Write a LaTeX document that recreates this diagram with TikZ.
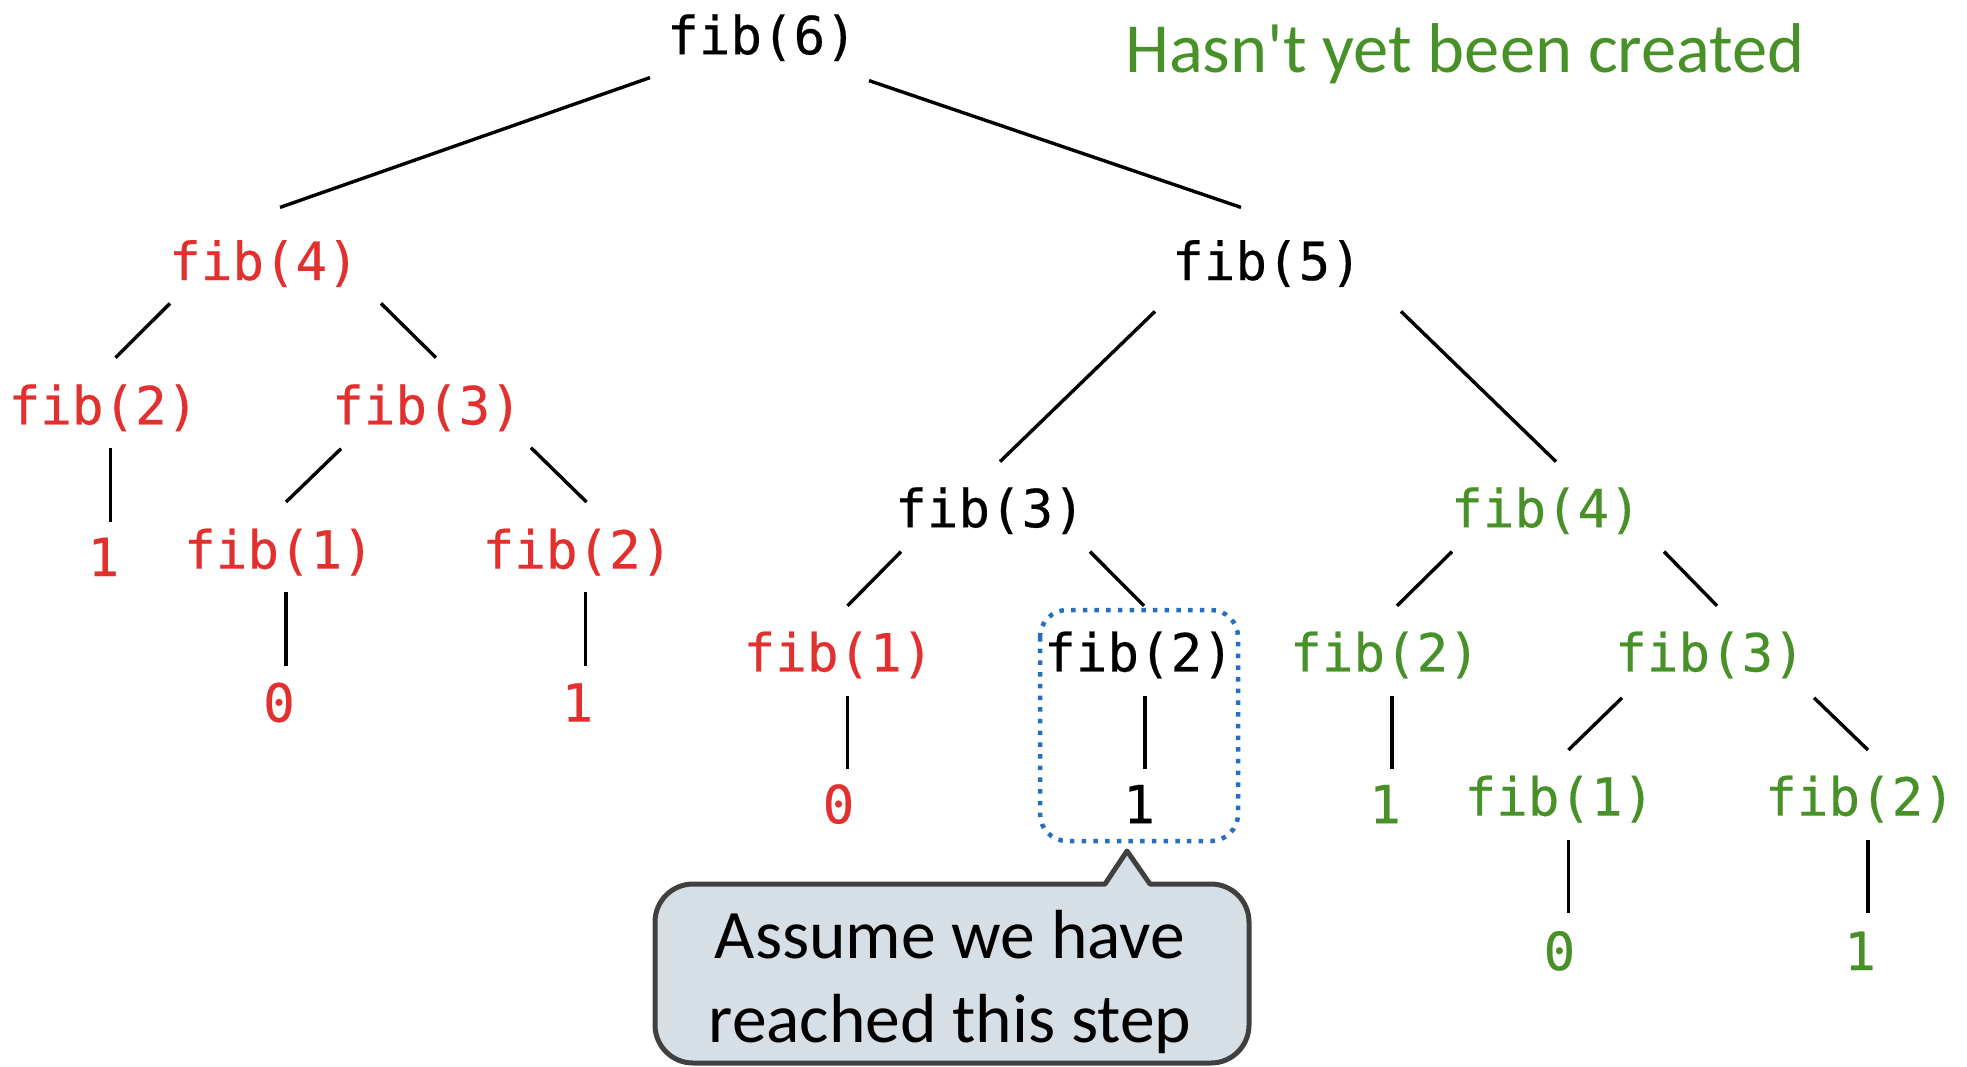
\documentclass[tikz,border=0pt]{standalone}
\usepackage{fontspec}
\setmainfont{Carlito}[Ligatures=TeXOff]
\setmonofont{DejaVu Sans Mono}[FakeBold=0.4]
\definecolor{callred}{RGB}{226,48,46}
\definecolor{callgreen}{RGB}{72,145,40}
\definecolor{focusblue}{RGB}{38,110,192}
\definecolor{notefill}{RGB}{214,222,230}
\definecolor{noteline}{RGB}{64,64,64}
\tikzset{
  call/.style={font=\fontsize{52.5}{60}\selectfont\ttfamily, inner sep=0pt,
    text height=40pt, text depth=6.8pt},
  done/.style={call, text=callred},
  live/.style={call, text=black},
  todo/.style={call, text=callgreen},
  edge/.style={draw=black, line width=3.4pt},
  focus/.style={draw=focusblue, line width=4.5pt, dash pattern=on 4.5pt off 7.2pt,
    rounded corners=27pt},
  note/.style={draw=noteline, fill=notefill, line width=5pt, line join=round},
  notetext/.style={font=\fontsize{69.5}{84}\selectfont, align=center, inner sep=0pt},
}

\begin{document}
\begin{tikzpicture}[x=1pt,y=-1pt]
  \useasboundingbox (0,0) rectangle (1967,1066);
  % calls
  \node[live] (f6)  at (762,37.6)    {fib(6)};
  \node[done] (f4a) at (264,263.4)   {fib(4)};
  \node[live] (f5)  at (1267,263.4)  {fib(5)};
  \node[done] (f2a) at (103.5,407.7) {fib(2)};
  \node[done] (f3a) at (427,407.7)   {fib(3)};
  \node[done] (r1a) at (103.5,559.5) {1};
  \node[done] (f1a) at (279,552)     {fib(1)};
  \node[done] (f2b) at (577.5,552)   {fib(2)};
  \node[done] (r0a) at (279,705)     {0};
  \node[done] (r1b) at (577.5,705)   {1};
  \node[live] (f3b) at (990,510.6)   {fib(3)};
  \node[todo] (f4b) at (1546,510.6)  {fib(4)};
  \node[done] (f1b) at (838.5,654.8) {fib(1)};
  \node[live] (f2c) at (1139,654.8)  {fib(2)};
  \node[todo] (f2d) at (1385,654.8)  {fib(2)};
  \node[todo] (f3c) at (1710,654.8)  {fib(3)};
  \node[done] (r0b) at (838.5,806.6) {0};
  \node[live] (r1c) at (1139,806.6)  {1};
  \node[todo] (r1d) at (1385,806.6)  {1};
  \node[todo] (f1c) at (1559.4,799)  {fib(1)};
  \node[todo] (f2e) at (1860,799)    {fib(2)};
  \node[todo] (r0c) at (1559.4,953.4) {0};
  \node[todo] (r1e) at (1860,953.4)  {1};

  % parent/dx/dy/child/dx/dy
  \foreach \p/\px/\py/\c/\cx/\cy in {
      f6/-112/40/f4a/16/-56, f6/107/43/f5/-26/-56,
      f4a/-94/40/f2a/12/-50, f4a/117/40/f3a/9/-50,
      f2a/7/40/r1a/7/-38,
      f3a/-86/41/f1a/7/-50, f3a/104/40/f2b/9/-50,
      f1a/7/40/r0a/7/-39, f2b/8/40/r1b/8/-39,
      f5/-112/48/f3b/10/-49, f5/134/48/f4b/10/-49,
      f3b/-89/41/f1b/9/-49, f3b/100/41/f2c/5/-49,
      f1b/9/41/r0b/9/-38, f2c/6/41/r1c/6/-38,
      f4b/-94/41/f2d/12/-49, f4b/118/41/f3c/7/-49,
      f2d/7/41/r1d/7/-38,
      f3c/-88/43/f1c/9/-49, f3c/104/43/f2e/8/-49,
      f1c/9/41/r0c/9/-40, f2e/8/41/r1e/8/-40}
    \draw[edge] ([shift={(\px,\py)}]\p.center) -- ([shift={(\cx,\cy)}]\c.center);

  \node[text=callgreen, font=\fontsize{70.5}{80}\selectfont, anchor=base west,
    inner sep=0pt] (legend) at (1125,72) {Hasn't yet been created};

  % current step
  \draw[focus] (1040,610) rectangle (1238,841);
  \draw[note] (1127,851) -- (1150,884)
    {[rounded corners=38pt] -- (1249,884) -- (1249,1063) -- (655,1063) -- (655,884)}
    -- (1105,884) -- cycle;
  \node[notetext, anchor=base] (note) at (950,1042) {Assume we have\\reached this step};
\end{tikzpicture}
\end{document}
